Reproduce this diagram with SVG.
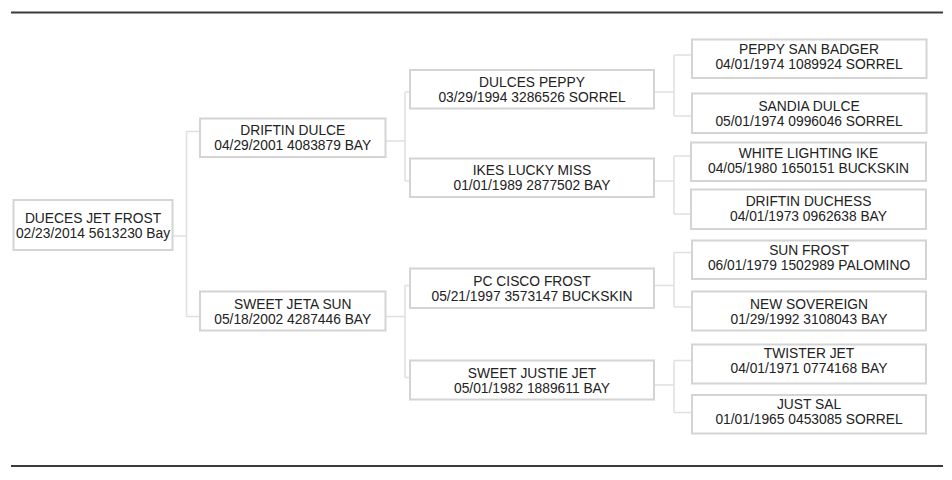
<svg xmlns="http://www.w3.org/2000/svg" width="952" height="480" viewBox="0 0 952 480">
<style>
.box{fill:#fff;stroke:#d4d4d4;stroke-width:2}
.t{font-family:"Liberation Sans",Arial,sans-serif;font-size:13.8px;fill:#222;text-anchor:middle}
.c{fill:none;stroke:#e0e0e0;stroke-width:1.5}
.rule{stroke:#3a3a3a;stroke-width:2.2}
</style>
<rect width="952" height="480" fill="#fff"/>
<line class="rule" x1="11" y1="12.5" x2="943" y2="12.5"/>
<line class="rule" x1="11" y1="466" x2="943" y2="466"/>
<g id="connectors">
<path class="c" d="M172.5 236H186.5M186.5 131.5V316.5M186.5 131.5H200M186.5 316.5H200"/>
<path class="c" d="M385.5 141H405M405 92V181M405 92H410M405 181H410"/>
<path class="c" d="M385.5 316.5H405M405 285.5V377.5M405 285.5H410M405 377.5H410"/>
<path class="c" d="M654 92H674M674 55V116M674 55H692M674 116H692"/>
<path class="c" d="M654 181H674M674 156V214M674 156H692M674 214H692"/>
<path class="c" d="M654 285.5H674M674 252.5V307M674 252.5H692M674 307H692"/>
<path class="c" d="M654 385H674M674 360.5V412.5M674 360.5H692M674 412.5H692"/>
</g>
<g id="n0"><rect class="box" x="13.5" y="200" width="159" height="50"/><text class="t" x="93" y="222.5">DUECES JET FROST</text><text class="t" x="93" y="237.5">02/23/2014 5613230 Bay</text></g>
<g id="n1"><rect class="box" x="200" y="118.5" width="185.5" height="38.5"/><text class="t" x="292.75" y="135.3">DRIFTIN DULCE</text><text class="t" x="292.75" y="150.3">04/29/2001 4083879 BAY</text></g>
<g id="n2"><rect class="box" x="200" y="291.5" width="185.5" height="39"/><text class="t" x="292.75" y="308.5">SWEET JETA SUN</text><text class="t" x="292.75" y="323.5">05/18/2002 4287446 BAY</text></g>
<g id="n3"><rect class="box" x="410" y="70" width="244" height="38.5"/><text class="t" x="532" y="86.8">DULCES PEPPY</text><text class="t" x="532" y="101.8">03/29/1994 3286526 SORREL</text></g>
<g id="n4"><rect class="box" x="410" y="158.5" width="244" height="38.5"/><text class="t" x="532" y="175.2">IKES LUCKY MISS</text><text class="t" x="532" y="190.2">01/01/1989 2877502 BAY</text></g>
<g id="n5"><rect class="box" x="410" y="268.5" width="244" height="39.5"/><text class="t" x="532" y="285.7">PC CISCO FROST</text><text class="t" x="532" y="300.7">05/21/1997 3573147 BUCKSKIN</text></g>
<g id="n6"><rect class="box" x="410" y="360.5" width="244" height="39"/><text class="t" x="532" y="377.5">SWEET JUSTIE JET</text><text class="t" x="532" y="392.5">05/01/1982 1889611 BAY</text></g>
<g id="n7"><rect class="box" x="692" y="39.5" width="234.5" height="38.5"/><text class="t" x="809" y="53.5">PEPPY SAN BADGER</text><text class="t" x="809" y="68.5">04/01/1974 1089924 SORREL</text></g>
<g id="n8"><rect class="box" x="692" y="93.5" width="234.5" height="39.5"/><text class="t" x="809" y="110.8">SANDIA DULCE</text><text class="t" x="809" y="125.8">05/01/1974 0996046 SORREL</text></g>
<g id="n9"><rect class="box" x="691" y="142.5" width="235" height="38.5"/><text class="t" x="808.5" y="157.5">WHITE LIGHTING IKE</text><text class="t" x="808.5" y="172.5">04/05/1980 1650151 BUCKSKIN</text></g>
<g id="n10"><rect class="box" x="691" y="189.5" width="235" height="39.5"/><text class="t" x="808.5" y="206">DRIFTIN DUCHESS</text><text class="t" x="808.5" y="221">04/01/1973 0962638 BAY</text></g>
<g id="n11"><rect class="box" x="692" y="240.5" width="234" height="38.5"/><text class="t" x="809" y="254.5">SUN FROST</text><text class="t" x="809" y="269.5">06/01/1979 1502989 PALOMINO</text></g>
<g id="n12"><rect class="box" x="692" y="291.5" width="234" height="39"/><text class="t" x="809" y="308.5">NEW SOVEREIGN</text><text class="t" x="809" y="323.5">01/29/1992 3108043 BAY</text></g>
<g id="n13"><rect class="box" x="692" y="344.5" width="234" height="39"/><text class="t" x="809" y="358">TWISTER JET</text><text class="t" x="809" y="373">04/01/1971 0774168 BAY</text></g>
<g id="n14"><rect class="box" x="692" y="395" width="234" height="38.5"/><text class="t" x="809" y="408.5">JUST SAL</text><text class="t" x="809" y="423.5">01/01/1965 0453085 SORREL</text></g>
</svg>
